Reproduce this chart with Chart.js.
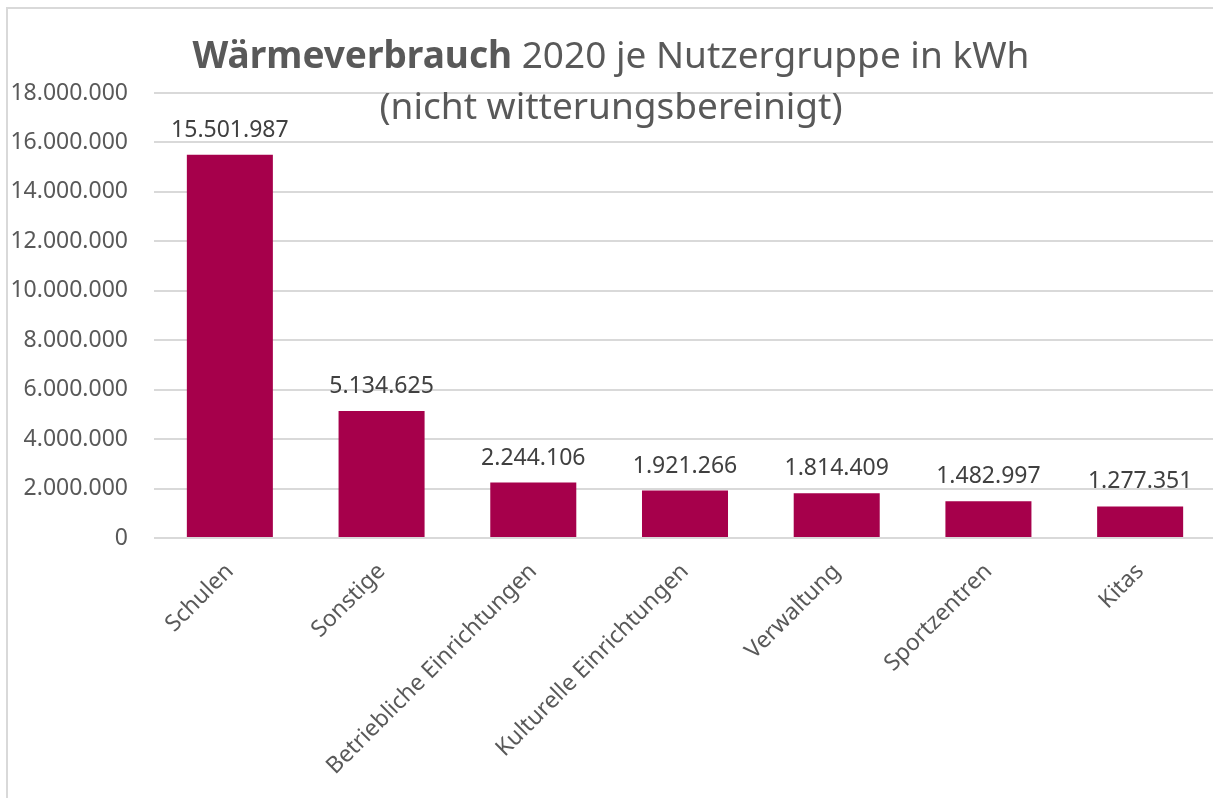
<!DOCTYPE html>
<html>
<head>
    <meta charset="utf-8">
    <script src="https://cdn.jsdelivr.net/npm/chart.js"></script>
    <style>
        body { margin: 0; overflow: hidden; background: #fff; }
        #frame { position: absolute; left: 6px; top: 7px; width: 1300px; height: 900px; border: 2px solid #d9d9d9; }
        #wrap { position: absolute; left: 0; top: 0; width: 1216px; height: 798px; }
    </style>
</head>
<body>
    <div id="frame"></div>
    <div id="wrap">
        <canvas id="heatChart"></canvas>
    </div>

    <script>
        // Nutzergruppen and Wärmeverbrauch 2020 in kWh
        const groups = ['Schulen', 'Sonstige', 'Betriebliche Einrichtungen', 'Kulturelle Einrichtungen', 'Verwaltung', 'Sportzentren', 'Kitas'];
        const kwh = [15501987, 5134625, 2244106, 1921266, 1814409, 1482997, 1277351];

        // y axis: 0 .. 18.000.000, step 2.000.000
        const yMin = 0;
        const yMax = 18000000;
        const yStep = 2000000;

        const titleBold = 'Wärmeverbrauch';
        const titleRest = ' 2020 je Nutzergruppe in kWh';
        const titleLine2 = '(nicht witterungsbereinigt)';

        const FONT = '"Noto Sans", "Open Sans", sans-serif';

        // german thousands separator
        function fmt(n) {
            return String(Math.round(n)).replace(/\B(?=(\d{3})+(?!\d))/g, '.');
        }

        // title with bold first word, drawn on top of the plot like in excel
        const mixedTitle = {
            id: 'mixedTitle',
            afterDraw(chart) {
                const ctx = chart.ctx;
                ctx.save();
                ctx.fillStyle = '#595959';
                ctx.textBaseline = 'alphabetic';
                ctx.font = 'bold 37px ' + FONT;
                const w1 = ctx.measureText(titleBold).width;
                ctx.font = '37px ' + FONT;
                const w2 = ctx.measureText(titleRest).width;
                const cx = 611;
                let x = cx - (w1 + w2) / 2;
                ctx.textAlign = 'left';
                ctx.font = 'bold 37px ' + FONT;
                ctx.fillText(titleBold, x, 68);
                ctx.font = '37px ' + FONT;
                ctx.fillText(titleRest, x + w1, 68);
                ctx.textAlign = 'center';
                ctx.fillText(titleLine2, cx, 119);
                ctx.restore();
            }
        };

        // value labels above bars
        const valueLabels = {
            id: 'valueLabels',
            afterDatasetsDraw(chart) {
                const ctx = chart.ctx;
                const meta = chart.getDatasetMeta(0);
                ctx.save();
                ctx.font = '23px ' + FONT;
                ctx.fillStyle = '#404040';
                ctx.textAlign = 'center';
                ctx.textBaseline = 'alphabetic';
                meta.data.forEach((bar, i) => {
                    ctx.fillText(fmt(chart.data.datasets[0].data[i]), bar.x, bar.y - 18);
                });
                ctx.restore();
            }
        };

        new Chart(document.getElementById('heatChart'), {
            type: 'bar',
            data: {
                labels: groups,
                datasets: [{
                    data: kwh,
                    backgroundColor: '#A6004B',
                    borderWidth: 0,
                    categoryPercentage: 1,
                    barPercentage: 0.567
                }]
            },
            options: {
                responsive: true,
                maintainAspectRatio: false,
                animation: false,
                layout: { padding: { top: 93, left: 0, right: 0, bottom: 0 } },
                plugins: {
                    legend: { display: false },
                    title: { display: false },
                    tooltip: { enabled: false }
                },
                scales: {
                    x: {
                        grid: { display: false },
                        border: { display: false },
                        ticks: {
                            color: '#595959',
                            font: { family: FONT, size: 23 },
                            maxRotation: 45,
                            minRotation: 45,
                            padding: 12
                        },
                        afterFit(scale) { scale.height = 260; }
                    },
                    y: {
                        min: yMin,
                        max: yMax,
                        grid: { color: '#d9d9d9', lineWidth: 2, drawTicks: false },
                        border: { display: false },
                        ticks: {
                            stepSize: yStep,
                            color: '#595959',
                            font: { family: FONT, size: 23 },
                            padding: 26,
                            callback: v => fmt(v)
                        },
                        afterFit(scale) { scale.width = 154; }
                    }
                }
            },
            plugins: [valueLabels, mixedTitle]
        });
    </script>
</body>
</html>
